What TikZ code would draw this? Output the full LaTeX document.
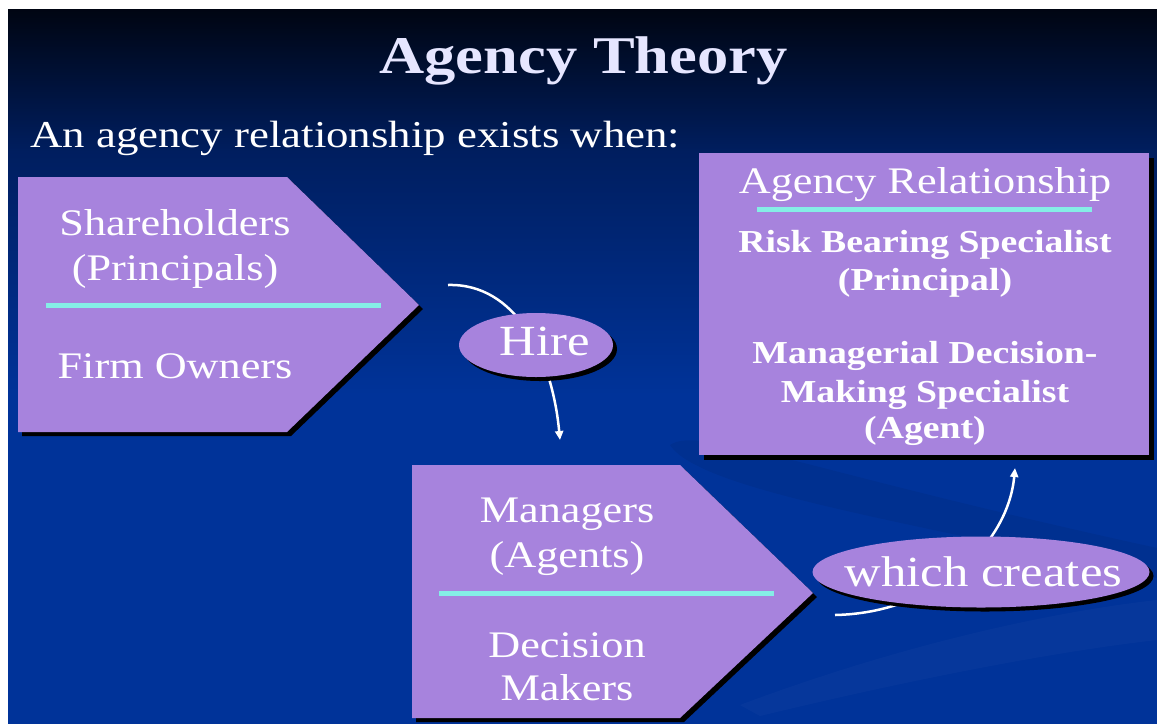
\documentclass[tikz,border=0pt]{standalone}
\usepackage{fontspec}
\setmainfont{Liberation Serif}[FakeStretch=1.18]
\usetikzlibrary{shapes.geometric,shadows,arrows.meta}
\definecolor{slideblue}{RGB}{0,51,153}
\definecolor{slidemid}{RGB}{0,30,95}
\definecolor{slidetop}{RGB}{0,5,18}
\definecolor{lav}{RGB}{167,131,221}
\definecolor{cyanline}{RGB}{133,238,230}
\definecolor{titlecol}{RGB}{230,230,255}
\pgfdeclareverticalshading{slidebg}{100bp}{color(0bp)=(slideblue); color(48bp)=(slideblue); color(65bp)=(slidemid); color(75bp)=(slidetop); color(100bp)=(slidetop)}
\begin{document}
\begin{tikzpicture}[x=1pt,y=-1pt,
  shapefill/.style={fill=lav, general shadow={fill=black, shadow xshift=#1, shadow yshift=-#1}},
  shapefill/.default=4pt,
  divider/.style={draw=cyanline, line width=5pt},
  bodytxt/.style={text=white, inner sep=0pt, anchor=base, font=\fontsize{37.5}{45}\selectfont},
  boldtxt/.style={text=white, inner sep=0pt, anchor=base, font=\fontsize{32}{38}\selectfont\bfseries},
  bubble/.style={ellipse, fill=lav, inner sep=0pt, text=white, font=\fontsize{43}{50}\selectfont,
    general shadow={fill=black, shadow xshift=4pt, shadow yshift=-4pt}},
  conn/.style={draw=white, line width=2.5pt, -{Triangle[length=9pt,width=8pt]}}
]
\useasboundingbox (0,0) rectangle (1157,724);
\fill[white] (0,0) rectangle (1157,724);
\shade[shading=slidebg] (8,9) rectangle (1157,723);

% faint background swooshes
\fill[black, opacity=0.06] (670,445) .. controls (700,425) and (800,470) .. (1157,548) -- (1157,578) .. controls (900,520) and (700,490) .. (670,445) -- cycle;
\fill[white, opacity=0.025] (740,705) .. controls (900,645) and (1050,612) .. (1157,600) -- (1157,640) .. controls (1050,652) and (900,682) .. (760,716) -- cycle;

% title and intro
\node[anchor=base, inner sep=0pt, text=titlecol, font=\fontsize{53}{60}\selectfont\bfseries] (title) at (583.5,73) {Agency Theory};
\node[anchor=base west, inner sep=0pt, text=white, font=\fontsize{38}{45}\selectfont] (intro) at (30,147) {An agency relationship exists when:};

% left chevron
\fill[shapefill] (18,177) -- (287,177) -- (419,305) -- (287,432) -- (18,432) -- cycle;
\draw[divider] (46,305) -- (381,305);
\node[bodytxt] (sh1) at (175,235) {Shareholders};
\node[bodytxt] (sh2) at (175,280) {(Principals)};
\node[bodytxt] (sh3) at (175,378) {Firm Owners};

% middle chevron
\fill[shapefill] (412,465) -- (680,465) -- (813,593) -- (680,718) -- (412,718) -- cycle;
\draw[divider] (439,593) -- (774,593);
\node[bodytxt] (mg1) at (567,522) {Managers};
\node[bodytxt] (mg2) at (567,567) {(Agents)};
\node[bodytxt] (mg3) at (567,657) {Decision};
\node[bodytxt] (mg4) at (567,700) {Makers};

% right box
\fill[shapefill=5pt] (699,153) rectangle (1149,455);
\draw[divider] (757,209) -- (1092,209);
\node[bodytxt] (ar) at (925,193) {Agency Relationship};
\node[boldtxt] (rb1) at (925,252) {Risk Bearing Specialist};
\node[boldtxt] (rb2) at (925,290) {(Principal)};
\node[boldtxt] (md1) at (925,363) {Managerial Decision-};
\node[boldtxt] (md2) at (925,402) {Making Specialist};
\node[boldtxt] (md3) at (925,438) {(Agent)};

% connectors
\coordinate (hireFrom) at (448,285);
\coordinate (hireTo) at (560,440);
\coordinate (createFrom) at (835,615);
\coordinate (createTo) at (1015,468);
\draw[conn] (hireFrom) .. controls (515,283) and (552,355) .. (hireTo);
\draw[conn] (createFrom) .. controls (935,613) and (1008,545) .. (createTo);

% bubbles
\node[bubble, minimum width=154pt, minimum height=64pt, text depth=7pt] (hire) at (536,345) {\makebox[0pt]{\hspace{17pt}Hire}};
\node[bubble, minimum width=337pt, minimum height=71pt] (creates) at (981,572) {\makebox[0pt]{\hspace{5pt}which creates}};
\end{tikzpicture}
\end{document}
